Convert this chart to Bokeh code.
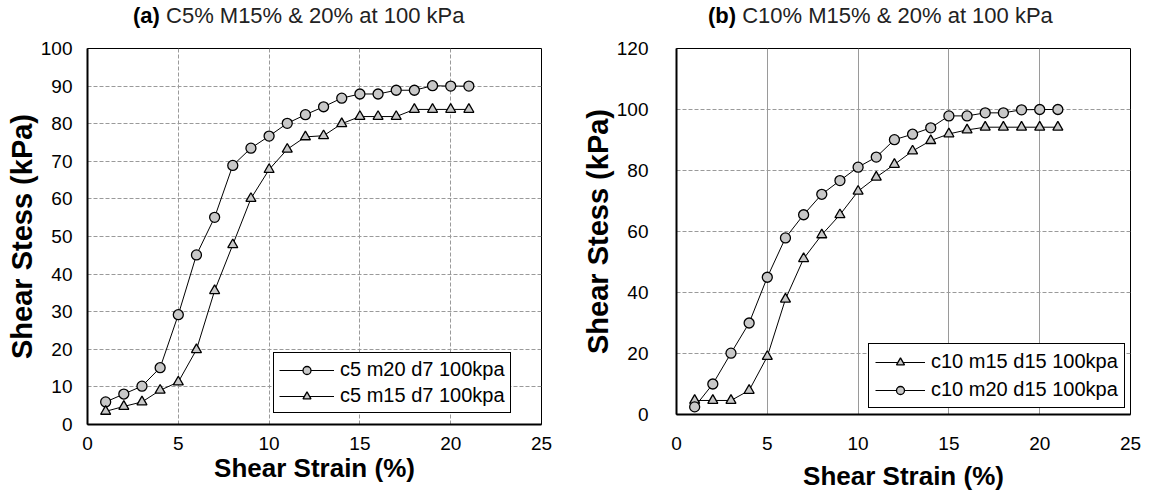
from bokeh.plotting import figure
from bokeh.layouts import row, column
from bokeh.models import Range1d, SingleIntervalTicker, Legend, LegendItem, Div
from bokeh.embed import file_html
from bokeh.resources import INLINE

strain = list(range(1, 22))

# (a) C5%
a_m20 = [6.0, 8.1, 10.2, 15.1, 29.2, 45.1, 55.1, 68.9, 73.5, 76.7, 80.1, 82.4, 84.5, 86.8,
         87.9, 87.9, 88.9, 88.9, 90.1, 90.0, 90.0]
a_m15 = [3.5, 4.8, 6.0, 9.1, 11.3, 19.9, 35.6, 47.8, 60.1, 67.8, 73.2, 76.5, 76.8, 80.0,
         81.9, 81.9, 81.9, 83.8, 83.8, 83.8, 83.8]

# (b) C10%
b_m15 = [4.6, 4.6, 4.6, 7.9, 19.0, 37.8, 51.1, 58.9, 65.5, 73.2, 77.8, 82.0, 86.4, 89.8,
         92.0, 93.3, 94.2, 94.2, 94.2, 94.2, 94.2]
b_m20 = [2.5, 10.0, 20.1, 30.0, 45.0, 57.9, 65.5, 72.2, 76.7, 81.1, 84.4, 90.1, 91.9, 94.0,
         97.9, 97.9, 98.9, 98.9, 99.9, 100.0, 100.0]

titles = [("(a)", "C5% M15% &amp; 20% at 100 kPa"), ("(b)", "C10% M15% &amp; 20% at 100 kPa")]
legend_a = ["c5 m20 d7 100kpa", "c5 m15 d7 100kpa"]
legend_b = ["c10 m15 d15 100kpa", "c10 m20 d15 100kpa"]

FONT = "Liberation Sans"
GRID = "#9a9a9a"
FILL = "#c8c8c8"
TOP = 28


def base_fig(width, ymax, yint, bl, br, bb):
    p = figure(width=width, height=494 - TOP, output_backend="svg", toolbar_location=None,
               x_range=Range1d(0, 25), y_range=Range1d(0, ymax),
               min_border_left=bl, min_border_right=br, min_border_top=48 - TOP,
               min_border_bottom=bb)
    p.xaxis.ticker = SingleIntervalTicker(interval=5)
    p.yaxis.ticker = SingleIntervalTicker(interval=yint)
    for ax in (p.xaxis[0], p.yaxis[0]):
        ax.major_tick_line_color = None
        ax.minor_tick_line_color = None
        ax.axis_line_color = "black"
        ax.axis_line_width = 2
        ax.major_label_text_font = FONT
        ax.major_label_text_font_size = "19px"
        ax.major_label_text_color = "black"
        ax.axis_label_text_font = FONT
        ax.axis_label_text_font_style = "bold"
        ax.axis_label_text_color = "black"
    p.xaxis.axis_label = "Shear Strain (%)"
    p.yaxis.axis_label = "Shear Stess (kPa)"
    p.xaxis.axis_label_text_font_size = "26px"
    p.yaxis.axis_label_text_font_size = "29px"
    p.outline_line_color = "black"
    p.outline_line_width = 1
    p.outline_line_alpha = 1
    p.background_fill_color = "white"
    p.border_fill_color = "white"
    return p


def title_div(width, bold, rest, pad_left):
    html = ('<div style="font-family:\'Liberation Sans\';font-size:22px;line-height:24px;'
            'color:#222;white-space:nowrap;padding-left:%dpx;padding-top:4px;">'
            '<b style="color:#000">%s</b> %s</div>' % (pad_left, bold, rest))
    return Div(text=html, width=width, height=TOP, margin=0)


def series(p, ys, marker, size):
    ln = p.line(strain, ys, line_color="black", line_width=1)
    sc = p.scatter(strain, ys, marker=marker, size=size, fill_color=FILL,
                   line_color="black", line_width=1.3)
    return [ln, sc]


def make_legend(items, loc, pad, spacing, glyph_w):
    return Legend(items=items, location=loc, label_text_font=FONT,
                  label_text_font_size="20px", label_text_color="black",
                  border_line_color="black", border_line_width=1.5, border_line_alpha=1,
                  background_fill_color="white", background_fill_alpha=1,
                  padding=pad, spacing=spacing, margin=0, glyph_width=glyph_w,
                  glyph_height=20, label_standoff=6, label_height=20)


# ---- left panel ----
p1 = base_fig(575, 100, 10, 87, 34, 70)
p1.xgrid.grid_line_color = GRID
p1.xgrid.grid_line_dash = "4 2"
p1.ygrid.grid_line_color = GRID
p1.ygrid.grid_line_dash = "4 2"
p1.yaxis.major_label_standoff = 9
p1.yaxis.axis_label_standoff = 0
p1.xaxis.major_label_standoff = 6
p1.xaxis.axis_label_standoff = 0
r1 = series(p1, a_m20, "circle", 10)
r2 = series(p1, a_m15, "triangle", 10)
p1.add_layout(make_legend([LegendItem(label=legend_a[0], renderers=r1),
                           LegendItem(label=legend_a[1], renderers=r2)], (186, 11), 5, 3, 55))

# ---- right panel ----
p2 = base_fig(574, 120, 20, 101, 19, 80)
p2.xgrid.grid_line_color = GRID
p2.xgrid.grid_line_dash = "solid"
p2.ygrid.grid_line_color = GRID
p2.ygrid.grid_line_dash = "4 2"
p2.yaxis.major_label_standoff = 22
p2.yaxis.axis_label_standoff = 0
p2.xaxis.major_label_standoff = 16
p2.xaxis.axis_label_standoff = 8
r3 = series(p2, b_m15, "triangle", 10)
r4 = series(p2, b_m20, "circle", 10)
p2.add_layout(make_legend([LegendItem(label=legend_b[0], renderers=r3),
                           LegendItem(label=legend_b[1], renderers=r4)], (192, 6), 6, 5, 50))

left = column(title_div(575, titles[0][0], titles[0][1], 133), p1, spacing=0)
right = column(title_div(574, titles[1][0], titles[1][1], 133), p2, spacing=0)
layout = row(left, right, spacing=0)
open("out.html", "w").write(file_html(layout, INLINE))
